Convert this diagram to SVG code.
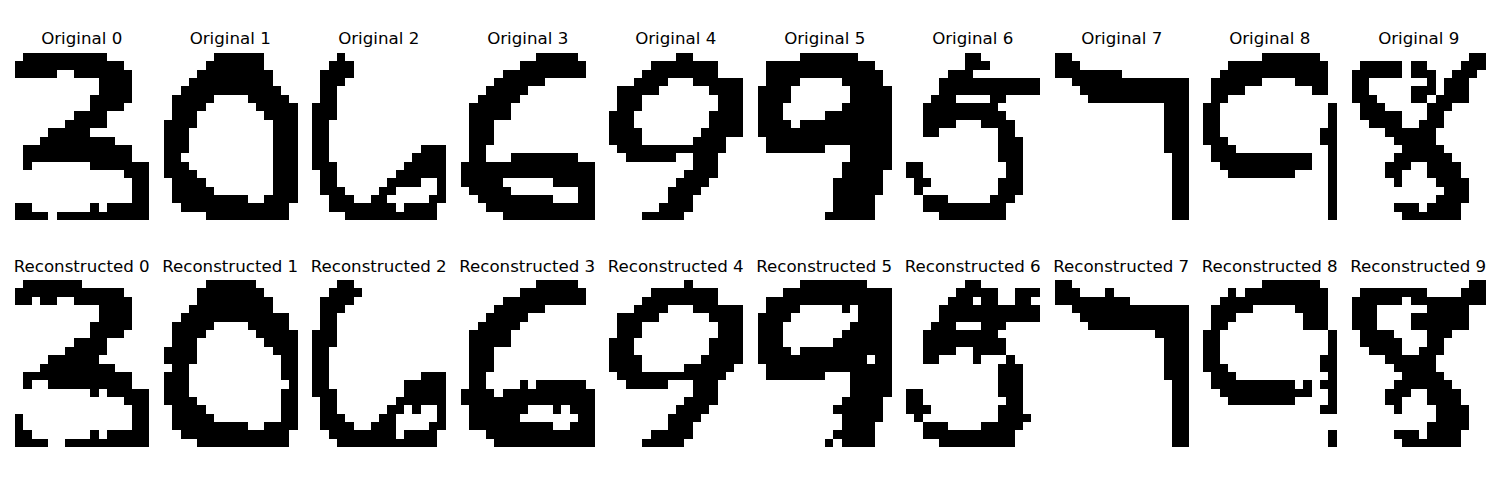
<svg xmlns="http://www.w3.org/2000/svg" width="1500" height="500" viewBox="0 0 1500 500">
<style>
text{font-family:"DejaVu Sans",sans-serif;font-size:16.67px;fill:#000;text-anchor:middle}
path{fill:none;stroke:#000;stroke-width:1;shape-rendering:crispEdges}
</style>
<rect width="1500" height="500" fill="#fff"/>
<g id="original-0"><text x="81.7" y="44">Original 0</text><path transform="translate(15 53) scale(8.36 8.35)" d="M1 .5H11M0 1.5H13M0 2.5H5M7 2.5H14M10 3.5H14M10 4.5H14M9 5.5H14M9 6.5H13M7 7.5H11M6 8.5H11M4 9.5H9M3 10.5H12M1 11.5H14M1 12.5H14M1 13.5H2M9 13.5H16M13 14.5H16M14 15.5H16M14 16.5H16M14 17.5H16M0 18.5H2M9 18.5H10M11 18.5H16M0 19.5H4M5 19.5H16"/></g>
<g id="reconstructed-0"><text x="81.7" y="272">Reconstructed 0</text><path transform="translate(15 280) scale(8.36 8.35)" d="M1 .5H8M0 1.5H13M0 2.5H2M3 2.5H5M7 2.5H14M10 3.5H14M10 4.5H14M9 5.5H14M9 6.5H13M7 7.5H11M6 8.5H11M4 9.5H10M3 10.5H12M1 11.5H14M1 12.5H2M4 12.5H14M9 13.5H10M11 13.5H16M13 14.5H16M14 15.5H16M0 16.5H1M14 16.5H16M0 17.5H1M14 17.5H16M0 18.5H2M9 18.5H10M11 18.5H16M0 19.5H4M6 19.5H16"/></g>
<g id="original-1"><text x="230.2" y="44">Original 1</text><path transform="translate(164 53) scale(8.36 8.35)" d="M6 .5H12M5 1.5H12M4 2.5H13M3 3.5H13M2 4.5H14M1 5.5H6M10 5.5H15M1 6.5H5M11 6.5H16M1 7.5H4M12 7.5H16M0 8.5H4M13 8.5H16M0 9.5H3M13 9.5H16M0 10.5H3M13 10.5H16M0 11.5H3M13 11.5H16M0 12.5H2M13 12.5H16M0 13.5H3M13 13.5H16M0 14.5H4M13 14.5H16M1 15.5H5M13 15.5H16M1 16.5H6M13 16.5H16M1 17.5H10M12 17.5H16M2 18.5H15M5 19.5H15"/></g>
<g id="reconstructed-1"><text x="230.2" y="272">Reconstructed 1</text><path transform="translate(164 280) scale(8.36 8.35)" d="M5 .5H11M4 1.5H12M4 2.5H13M3 3.5H13M2 4.5H15M1 5.5H6M10 5.5H15M1 6.5H5M11 6.5H16M1 7.5H4M12 7.5H16M0 8.5H4M13 8.5H16M0 9.5H4M14 9.5H16M1 10.5H3M14 10.5H16M0 11.5H3M14 11.5H16M0 12.5H3M15 12.5H16M0 13.5H3M14 13.5H16M0 14.5H4M14 14.5H16M1 15.5H5M14 15.5H16M1 16.5H6M14 16.5H16M1 17.5H10M12 17.5H16M2 18.5H15M4 19.5H15"/></g>
<g id="original-2"><text x="378.7" y="44">Original 2</text><path transform="translate(312 53) scale(8.36 8.35)" d="M3 .5H4M2 1.5H5M1 2.5H5M1 3.5H4M1 4.5H3M1 5.5H3M0 6.5H3M0 7.5H3M0 8.5H2M0 9.5H2M0 10.5H2M0 11.5H2M13 11.5H16M0 12.5H2M12 12.5H16M0 13.5H3M11 13.5H16M1 14.5H3M10 14.5H16M1 15.5H3M9 15.5H13M15 15.5H16M1 16.5H4M8 16.5H10M15 16.5H16M2 17.5H5M7 17.5H9M14 17.5H16M2 18.5H10M11 18.5H15M4 19.5H15"/></g>
<g id="reconstructed-2"><text x="378.7" y="272">Reconstructed 2</text><path transform="translate(312 280) scale(8.36 8.35)" d="M3 .5H5M2 1.5H6M1 2.5H5M1 3.5H4M1 4.5H3M1 5.5H3M0 6.5H3M0 7.5H3M0 8.5H2M0 9.5H2M0 10.5H2M0 11.5H2M13 11.5H16M0 12.5H2M11 12.5H16M0 13.5H3M11 13.5H16M1 14.5H3M10 14.5H16M1 15.5H3M9 15.5H11M12 15.5H13M15 15.5H16M1 16.5H4M8 16.5H10M15 16.5H16M1 17.5H5M7 17.5H10M14 17.5H16M2 18.5H10M11 18.5H15M3 19.5H15"/></g>
<g id="original-3"><text x="527.7" y="44">Original 3</text><path transform="translate(461 53) scale(8.36 8.35)" d="M9 .5H14M7 1.5H15M5 2.5H15M4 3.5H10M3 4.5H8M2 5.5H7M1 6.5H6M1 7.5H6M1 8.5H4M1 9.5H4M1 10.5H4M1 11.5H3M1 12.5H3M6 12.5H14M0 13.5H16M0 14.5H16M0 15.5H5M11 15.5H16M1 16.5H6M14 16.5H16M2 17.5H11M14 17.5H16M3 18.5H16M5 19.5H16"/></g>
<g id="reconstructed-3"><text x="527.2" y="272">Reconstructed 3</text><path transform="translate(461 280) scale(8.36 8.35)" d="M9 .5H14M7 1.5H15M5 2.5H15M4 3.5H10M3 4.5H8M2 5.5H7M1 6.5H6M1 7.5H6M1 8.5H4M1 9.5H4M1 10.5H4M1 11.5H3M1 12.5H3M7 12.5H8M9 12.5H15M0 13.5H4M5 13.5H16M0 14.5H16M1 15.5H8M11 15.5H12M13 15.5H16M1 16.5H7M14 16.5H16M1 17.5H11M13 17.5H16M3 18.5H16M4 19.5H16"/></g>
<g id="original-4"><text x="675.7" y="44">Original 4</text><path transform="translate(609 53) scale(8.36 8.35)" d="M8 .5H10M5 1.5H13M4 2.5H13M3 3.5H7M10 3.5H16M1 4.5H6M12 4.5H16M1 5.5H4M13 5.5H16M1 6.5H4M13 6.5H16M0 7.5H3M12 7.5H16M0 8.5H3M12 8.5H16M0 9.5H4M11 9.5H16M0 10.5H4M10 10.5H14M1 11.5H14M2 12.5H8M10 12.5H13M10 13.5H13M9 14.5H13M8 15.5H12M7 16.5H11M7 17.5H10M6 18.5H10M4 19.5H9"/></g>
<g id="reconstructed-4"><text x="675.7" y="272">Reconstructed 4</text><path transform="translate(609 280) scale(8.36 8.35)" d="M9 .5H10M5 1.5H13M4 2.5H13M3 3.5H7M10 3.5H16M1 4.5H6M12 4.5H16M1 5.5H4M13 5.5H16M1 6.5H4M13 6.5H16M0 7.5H3M12 7.5H16M0 8.5H3M12 8.5H16M0 9.5H4M11 9.5H16M0 10.5H4M9 10.5H15M1 11.5H14M2 12.5H7M10 12.5H13M10 13.5H13M9 14.5H13M8 15.5H12M7 16.5H11M7 17.5H10M5 18.5H10M4 19.5H9"/></g>
<g id="original-5"><text x="824.7" y="44">Original 5</text><path transform="translate(758 53) scale(8.36 8.35)" d="M5 .5H12M1 1.5H14M1 2.5H15M1 3.5H5M10 3.5H15M0 4.5H4M11 4.5H16M0 5.5H4M11 5.5H16M0 6.5H3M10 6.5H16M0 7.5H3M8 7.5H16M0 8.5H4M5 8.5H16M0 9.5H16M1 10.5H16M1 11.5H8M11 11.5H16M11 12.5H16M10 13.5H16M10 14.5H15M9 15.5H15M9 16.5H15M9 17.5H14M9 18.5H14M8 19.5H14"/></g>
<g id="reconstructed-5"><text x="824.2" y="272">Reconstructed 5</text><path transform="translate(758 280) scale(8.36 8.35)" d="M5 .5H13M3 1.5H16M1 2.5H16M1 3.5H5M10 3.5H11M12 3.5H16M0 4.5H4M12 4.5H16M0 5.5H3M11 5.5H16M0 6.5H3M10 6.5H16M0 7.5H3M9 7.5H16M0 8.5H4M5 8.5H16M0 9.5H13M14 9.5H16M1 10.5H16M1 11.5H8M11 11.5H16M11 12.5H16M11 13.5H16M10 14.5H15M9 15.5H15M10 16.5H15M10 17.5H14M9 18.5H14M8 19.5H9M10 19.5H14"/></g>
<g id="original-6"><text x="972.7" y="44">Original 6</text><path transform="translate(906 53) scale(8.36 8.35)" d="M7 .5H9M7 1.5H10M5 2.5H8M4 3.5H16M4 4.5H16M3 5.5H6M10 5.5H12M2 6.5H11M2 7.5H12M2 8.5H6M9 8.5H13M2 9.5H4M11 9.5H13M11 10.5H14M11 11.5H14M11 12.5H14M0 13.5H2M12 13.5H14M0 14.5H2M12 14.5H14M1 15.5H3M11 15.5H14M1 16.5H2M11 16.5H14M2 17.5H5M10 17.5H13M2 18.5H12M4 19.5H12"/></g>
<g id="reconstructed-6"><text x="972.7" y="272">Reconstructed 6</text><path transform="translate(906 280) scale(8.36 8.35)" d="M7 .5H9M6 1.5H11M13 1.5H16M5 2.5H8M9 2.5H11M13 2.5H15M4 3.5H16M4 4.5H16M3 5.5H6M9 5.5H12M2 6.5H11M2 7.5H12M2 8.5H6M8 8.5H12M2 9.5H4M8 9.5H9M12 9.5H13M11 10.5H14M11 11.5H14M11 12.5H14M0 13.5H2M11 13.5H14M0 14.5H2M12 14.5H14M0 15.5H3M11 15.5H14M1 16.5H2M11 16.5H15M2 17.5H5M9 17.5H14M2 18.5H13M4 19.5H13"/></g>
<g id="original-7"><text x="1121.7" y="44">Original 7</text><path transform="translate(1055 53) scale(8.36 8.35)" d="M0 .5H2M0 1.5H3M0 2.5H8M2 3.5H16M3 4.5H16M4 5.5H16M13 6.5H16M13 7.5H16M13 8.5H16M13 9.5H16M13 10.5H16M13 11.5H16M14 12.5H16M14 13.5H16M14 14.5H16M14 15.5H16M14 16.5H16M14 17.5H16M14 18.5H16M14 19.5H16"/></g>
<g id="reconstructed-7"><text x="1121.2" y="272">Reconstructed 7</text><path transform="translate(1055 280) scale(8.36 8.35)" d="M0 .5H2M0 1.5H3M6 1.5H7M0 2.5H9M2 3.5H16M3 4.5H16M4 5.5H16M12 6.5H16M13 7.5H16M13 8.5H16M13 9.5H16M13 10.5H16M13 11.5H16M14 12.5H16M14 13.5H16M14 14.5H16M14 15.5H16M14 16.5H16M14 17.5H16M14 18.5H16M14 19.5H16"/></g>
<g id="original-8"><text x="1269.7" y="44">Original 8</text><path transform="translate(1203 53) scale(8.36 8.35)" d="M7 .5H14M3 1.5H15M2 2.5H15M1 3.5H7M11 3.5H15M1 4.5H5M13 4.5H15M1 5.5H3M0 6.5H2M15 6.5H16M0 7.5H2M15 7.5H16M0 8.5H2M15 8.5H16M0 9.5H2M14 9.5H16M0 10.5H3M14 10.5H16M1 11.5H4M15 11.5H16M1 12.5H13M15 12.5H16M2 13.5H13M15 13.5H16M3 14.5H11M15 14.5H16M15 15.5H16M15 16.5H16M15 17.5H16M15 18.5H16M15 19.5H16"/></g>
<g id="reconstructed-8"><text x="1269.7" y="272">Reconstructed 8</text><path transform="translate(1203 280) scale(8.36 8.35)" d="M7 .5H14M3 1.5H4M5 1.5H15M2 2.5H15M1 3.5H6M11 3.5H15M1 4.5H4M12 4.5H15M1 5.5H3M12 5.5H15M0 6.5H2M15 6.5H16M0 7.5H2M15 7.5H16M0 8.5H2M15 8.5H16M0 9.5H2M14 9.5H16M0 10.5H3M14 10.5H16M1 11.5H4M15 11.5H16M1 12.5H11M12 12.5H13M14 12.5H16M2 13.5H13M15 13.5H16M3 14.5H11M15 14.5H16M14 15.5H16M15 18.5H16M15 19.5H16"/></g>
<g id="original-9"><text x="1418.7" y="44">Original 9</text><path transform="translate(1352 53) scale(8.36 8.35)" d="M14 .5H16M1 1.5H6M7 1.5H9M13 1.5H16M0 2.5H6M7 2.5H10M12 2.5H15M0 3.5H2M9 3.5H10M11 3.5H14M0 4.5H2M7 4.5H10M11 4.5H14M0 5.5H3M7 5.5H9M10 5.5H14M1 6.5H4M9 6.5H12M1 7.5H6M9 7.5H11M2 8.5H6M8 8.5H11M4 9.5H10M5 10.5H10M6 11.5H11M5 12.5H12M4 13.5H7M9 13.5H13M4 14.5H6M9 14.5H13M5 15.5H6M10 15.5H14M11 16.5H14M10 17.5H14M5 18.5H8M9 18.5H13M6 19.5H13"/></g>
<g id="reconstructed-9"><text x="1418.2" y="272">Reconstructed 9</text><path transform="translate(1352 280) scale(8.36 8.35)" d="M14 .5H16M1 1.5H9M13 1.5H16M0 2.5H6M7 2.5H16M0 3.5H3M9 3.5H14M0 4.5H3M7 4.5H14M0 5.5H3M7 5.5H14M1 6.5H5M9 6.5H12M1 7.5H6M9 7.5H11M2 8.5H6M8 8.5H11M4 9.5H10M5 10.5H10M6 11.5H11M5 12.5H12M4 13.5H7M9 13.5H13M4 14.5H6M9 14.5H13M5 15.5H6M10 15.5H14M10 16.5H14M9 17.5H14M5 18.5H8M9 18.5H13M6 19.5H13"/></g>
</svg>
